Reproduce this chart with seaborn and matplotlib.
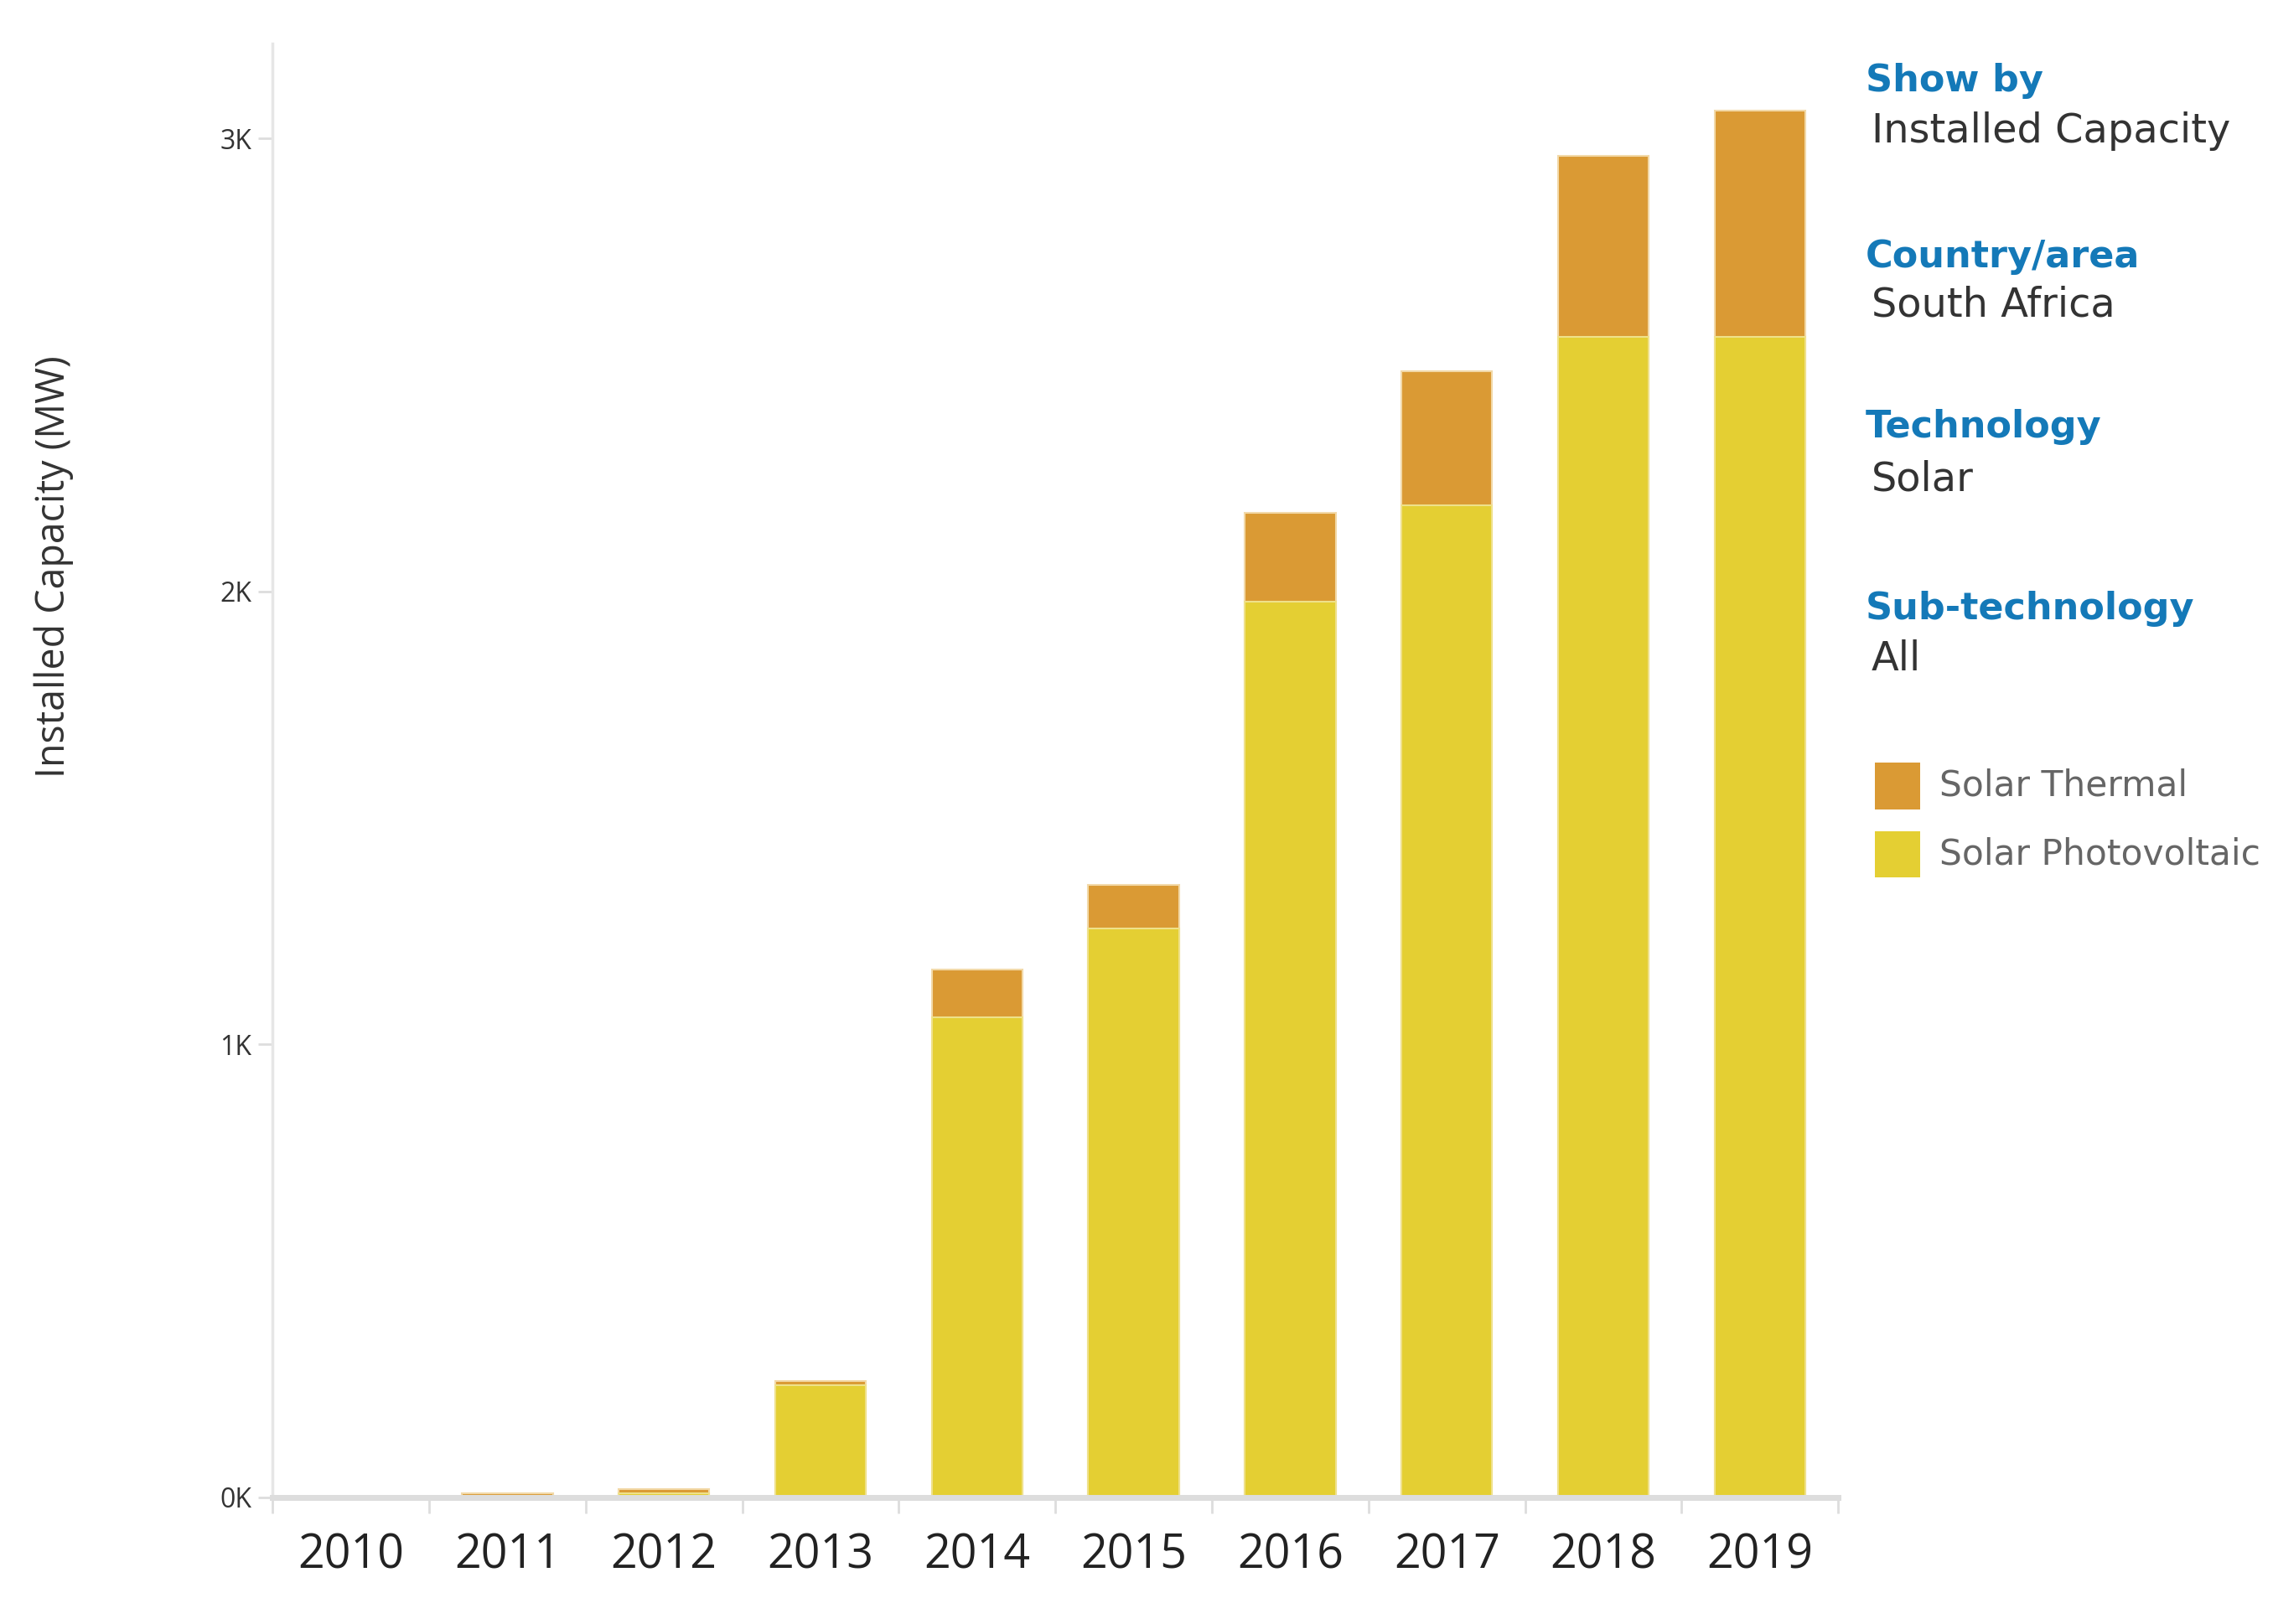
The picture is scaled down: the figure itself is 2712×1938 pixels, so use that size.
import numpy as np
import pandas as pd
import seaborn as sns
import matplotlib.pyplot as plt
from matplotlib.ticker import FuncFormatter, FixedLocator
from matplotlib.patches import Rectangle

sns.set_style("white")
plt.rcParams['font.family'] = ['Open Sans', 'DejaVu Sans']

# values (MW)
years = ["2010", "2011", "2012", "2013", "2014", "2015", "2016", "2017", "2018", "2019"]
pv = [0, 3, 8, 248, 1060, 1255, 1977, 2191, 2562, 2562]
thermal = [0, 6, 9, 9, 106, 97, 197, 296, 400, 499]

df = pd.DataFrame({"year": years, "pv": pv, "thermal": thermal})
df["total"] = df["pv"] + df["thermal"]

c_pv = "#E4CF33"
c_th = "#DA9A34"
blue = "#1479B8"

fig = plt.figure(figsize=(27.12, 19.38), dpi=100)
ax = fig.add_axes([0.1199, 0.0781, 0.8087 - 0.1199, 0.9732 - 0.0781])

sns.barplot(data=df, x="year", y="total", color=c_th, saturation=1, width=0.58,
            edgecolor="#F2D9A8", linewidth=1.5, ax=ax)
sns.barplot(data=df, x="year", y="pv", color=c_pv, saturation=1, width=0.58,
            edgecolor="#EFE18A", linewidth=1.5, ax=ax)

ax.set_xlim(-0.5, 9.5)
ax.set_ylim(0, 3210)
ax.set_xlabel("")
ax.set_ylabel("")

for s in ["top", "right"]:
    ax.spines[s].set_visible(False)
ax.spines["left"].set_color("#E6E6E6")
ax.spines["left"].set_linewidth(2.5)
ax.spines["bottom"].set_color("#DDDDDD")
ax.spines["bottom"].set_linewidth(5)

ax.yaxis.set_major_locator(FixedLocator([0, 1000, 2000, 3000]))
ax.yaxis.set_major_formatter(FuncFormatter(lambda v, p: f"{int(v/1000)}K"))
ax.tick_params(axis="y", length=12, width=2, color="#DDDDDD", pad=6,
               labelsize=23, labelcolor="#333333", left=True)

ax.set_xticks(range(len(years)))
ax.set_xticklabels(years)
ax.tick_params(axis="x", which="major", length=0, pad=30, labelsize=40, labelcolor="#222222")
ax.set_xticks(np.arange(-0.5, 10, 1), minor=True)
ax.tick_params(axis="x", which="minor", length=14, width=2, color="#DDDDDD", bottom=True)

fig.text(0.0236, 0.651, "Installed Capacity (MW)", rotation=90, ha="center", va="center",
         fontsize=33.5, color="#333333")

# right-hand filter panel
panel = [("Show by", "Installed Capacity", 0.950, 0.919),
         ("Country/area", "South Africa", 0.842, 0.812),
         ("Technology", "Solar", 0.737, 0.705),
         ("Sub-technology", "All", 0.625, 0.594)]
for title, value, yt, yv in panel:
    fig.text(0.8208, yt, title, fontsize=32, fontweight="bold", color=blue, va="center",
             family="DejaVu Sans")
    fig.text(0.8233, yv, value, fontsize=34.5, color="#333333", va="center",
             family="DejaVu Sans")

legend_items = [("Solar Thermal", c_th, 0.516), ("Solar Photovoltaic", c_pv, 0.474)]
for label, col, yc in legend_items:
    fig.patches.append(Rectangle((0.825, yc - 0.0143), 0.0198, 0.0286, transform=fig.transFigure,
                                 facecolor=col, edgecolor="none"))
    fig.text(0.8533, yc, label, fontsize=30.5, color="#666666", va="center",
             family="DejaVu Sans")

fig.savefig("out.png", dpi=100)
